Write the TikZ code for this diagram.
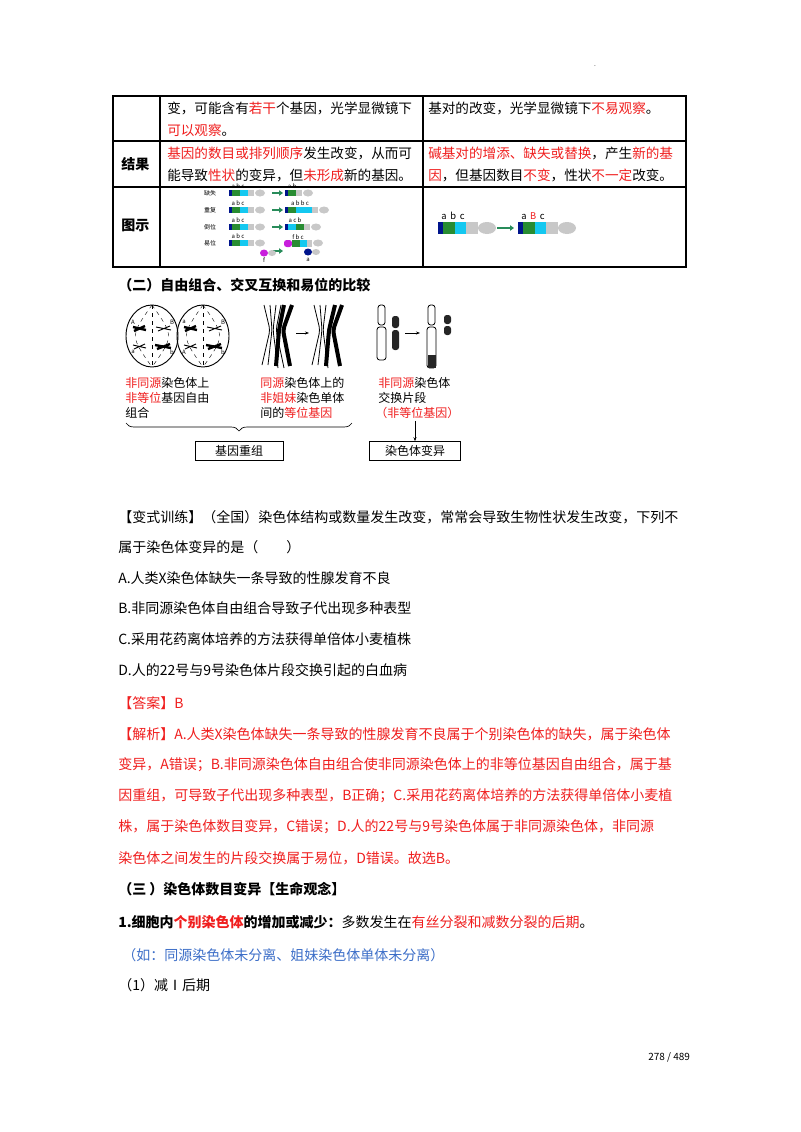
\documentclass[tikz,border=0pt]{standalone}
\usepackage{fontspec}
\setmainfont{Noto Sans CJK SC}
\usetikzlibrary{decorations.pathreplacing,arrows.meta}
\definecolor{rd}{RGB}{240,30,30}
\definecolor{bl}{RGB}{60,110,200}
\definecolor{cdb}{RGB}{0,20,140}
\definecolor{cgr}{RGB}{40,140,50}
\definecolor{ccy}{RGB}{20,200,240}
\definecolor{cgy}{RGB}{200,200,200}
\definecolor{cmg}{RGB}{200,30,220}
\definecolor{arr}{RGB}{40,140,90}
\newcommand\cseg[5]{\fill[#5] (#1,#3) rectangle (#2,#4);}
\newcommand\R[1]{\textcolor{rd}{#1}}
\tikzset{
 txt/.style={anchor=west,inner sep=0,font=\fontsize{10.5pt}{12pt}\selectfont},
 ttxt/.style={anchor=west,inner sep=0,font=\fontsize{10.2pt}{12pt}\selectfont},
 tiny/.style={inner sep=0,font=\fontsize{4.5pt}{5pt}\selectfont},
 lab/.style={inner sep=0,font=\fontsize{7pt}{8pt}\selectfont},
 grid/.style={line width=0.8pt},
 bx/.style={draw,line width=0.6pt,minimum width=66pt,minimum height=14pt,inner sep=0,font=\fontsize{9pt}{10pt}\selectfont},
 garrow/.style={arr,line width=1.6pt,-{Triangle[length=3pt,width=4pt]}},
 karrow/.style={line width=0.5pt,-{Stealth[length=3pt]}},
}
\begin{document}
\begin{tikzpicture}[x=0.75pt,y=-0.75pt]
\useasboundingbox (0,0) rectangle (800,1132);
\fill[white] (0,0) rectangle (800,1132);
\node[inner sep=0,font=\tiny] (dot) at (595,66) {.};
% table
\draw[grid] (113,96) rectangle (686,267);
\draw[grid] (160,96) -- (160,267) (423,96) -- (423,267);
\draw[grid] (113,141) -- (686,141) (113,187) -- (686,187);
\node[ttxt] (r1a) at (167,108) {变，可能含有\R{若干}个基因，光学显微镜下};
\node[ttxt] (r1b) at (167,130) {\R{可以观察}。};
\node[ttxt] (r1c) at (428,108) {基对的改变，光学显微镜下\R{不易观察}。};
\node[ttxt,font=\fontsize{10.5pt}{12pt}\selectfont\bfseries] (jg) at (121,164) {结果};
\node[ttxt] (r2a) at (167,153) {\R{基因的数目或排列顺序}发生改变，从而可};
\node[ttxt] (r2b) at (167,175) {能导致\R{性状}的变异，但\R{未形成}新的基因。};
\node[ttxt] (r2c) at (428,153) {\R{碱基对的增添、缺失或替换}，产生\R{新的基}};
\node[ttxt] (r2d) at (428,175) {\R{因}，但基因数目\R{不变}，性状\R{不一定}改变。};
\node[ttxt,font=\fontsize{10.5pt}{12pt}\selectfont\bfseries] (ts) at (121,225) {图示};
% left figure
\node[tiny] (l1) at (210,193) {缺失};
\node[tiny] (l2) at (210,210) {重复};
\node[tiny] (l3) at (210,227) {倒位};
\node[tiny] (l4) at (210,243) {易位};
\foreach \y in {193,210,227,243}{
 \cseg{229}{232}{\y-3}{\y+3}{cdb}
 \cseg{232}{240}{\y-3}{\y+3}{cgr}
 \cseg{240}{248}{\y-3}{\y+3}{ccy}
 \cseg{248}{254}{\y-3}{\y+3}{cgy}
 \fill[cgy] (260,\y) ellipse (5 and 3.5);
 \node[tiny] at (238,\y-6.5) {a b c};
}
\foreach \y in {193,210,227,251}{\draw[garrow,line width=1pt] (272,\y) -- (283,\y);}
% deletion result
\cseg{285}{288}{190}{196}{cdb}\cseg{288}{296}{190}{196}{cgr}\cseg{296}{302}{190}{196}{cgy}\fill[cgy] (308,193) ellipse (5 and 3.5);
\node[tiny] at (292,186.5) {a b};
% duplication
\cseg{285}{288}{207}{213}{cdb}\cseg{288}{296}{207}{213}{cgr}\cseg{296}{304}{207}{213}{ccy}\cseg{304}{312}{207}{213}{ccy}\cseg{312}{318}{207}{213}{cgy}\fill[cgy] (324,210) ellipse (5 and 3.5);
\node[tiny] at (300,203.5) {a b b c};
% inversion
\cseg{285}{288}{224}{230}{cdb}\cseg{288}{296}{224}{230}{ccy}\cseg{296}{304}{224}{230}{cgr}\cseg{304}{310}{224}{230}{cgy}\fill[cgy] (316,227) ellipse (5 and 3.5);
\node[tiny] at (295,220.5) {a c b};
% translocation
\fill[cmg] (264,253) ellipse (4 and 3.5);\fill[cgy] (272,253) ellipse (4 and 3);
\node[tiny] at (264,260) {f};
\fill[cmg,rounded corners=2pt] (284,240) rectangle (292,247);\cseg{292}{300}{240}{247}{cgr}\cseg{300}{307}{240}{247}{ccy}\cseg{307}{312}{240}{247}{cgy}\fill[cgy] (318,243) ellipse (5 and 3.5);
\node[tiny] at (298,237) {f b c};
\fill[cdb] (308,252) ellipse (4 and 3.5);\fill[cgy] (316,252) ellipse (4 and 3);
\node[tiny] at (308,260) {a};
% right figure
\node[lab] (ra) at (453,216) {a\, b\, c};
\cseg{438}{443}{222}{234}{cdb}\cseg{443}{455}{222}{234}{cgr}\cseg{455}{466}{222}{234}{ccy}\cseg{466}{478}{222}{234}{cgy}
\fill[cgy] (487,228) ellipse (9 and 6);
\draw[garrow] (497,228) -- (514,228);
\node[lab] (rb) at (533,216) {a\, \textcolor{rd}{B}\, c};
\cseg{518}{523}{222}{234}{cdb}\cseg{523}{535}{222}{234}{cgr}\cseg{535}{546}{222}{234}{ccy}\cseg{546}{558}{222}{234}{cgy}
\fill[cgy] (567,228) ellipse (9 and 6);
% section 2
\node[txt,font=\fontsize{10.5pt}{12pt}\selectfont\bfseries] (s2) at (118,285) {（二）自由组合、交叉互换和易位的比较};
% cells
\foreach \cx in {152,203}{
 \draw[line width=0.7pt] (\cx,336) ellipse (26 and 31);
 \draw[dashed,line width=0.3pt] (\cx,305) .. controls (\cx-22,336) .. (\cx,367);
 \draw[dashed,line width=0.3pt] (\cx,305) .. controls (\cx+22,336) .. (\cx,367);
 \draw[dashed,line width=0.3pt] (\cx,305) -- (\cx,367);
 \draw[line width=1.8pt] (\cx-19,327) -- (\cx-6,330) (\cx-18,331) -- (\cx-7,326);
 \draw[line width=0.7pt] (\cx+4,327) -- (\cx+19,330) (\cx+6,331) -- (\cx+18,326);
 \draw[line width=1.8pt] (\cx+3,345) -- (\cx+19,348) (\cx+5,349) -- (\cx+18,344);
 \draw[line width=0.7pt] (\cx-19,345) -- (\cx-6,348) (\cx-18,349) -- (\cx-7,344);
}
\node[tiny] at (133,322) {A};\node[tiny] at (172,322) {B};
\node[tiny] at (133,352) {a};\node[tiny] at (172,352) {b};
\node[tiny] at (184,322) {a};\node[tiny] at (223,322) {B};
\node[tiny] at (184,352) {A};\node[tiny] at (223,352) {b};
% homologous pairs
\draw[line width=0.6pt,rounded corners=3pt] (264,305) -- (270,330) -- (262,365) (270,305) -- (272,330) -- (268,365);
\draw[line width=0.6pt,rounded corners=3pt] (276,305) -- (273,330) -- (278,368) (281,305) -- (276,330) -- (284,368);
\draw[line width=3pt,rounded corners=3pt] (284,305) -- (279,330) -- (276,366);
\draw[line width=3pt,rounded corners=3pt] (292,305) -- (283,330) -- (290,366);
\draw[karrow] (296,333) -- (309,333);
\draw[line width=0.6pt,rounded corners=3pt] (314,305) -- (320,330) -- (312,365) (320,305) -- (322,330) -- (318,365);
\draw[line width=0.6pt,rounded corners=3pt] (326,305) -- (323,330) -- (328,368);
\draw[line width=3pt,rounded corners=3pt] (335,305) -- (329,330) -- (326,366);
\draw[line width=3pt,rounded corners=3pt] (342,305) -- (333,330) -- (340,366);
% translocation figure
\draw[line width=0.6pt,rounded corners=2pt] (378,305) rectangle (385,325);
\draw[line width=0.6pt,rounded corners=2pt] (377,327) rectangle (386,360);
\fill[black!85,rounded corners=2pt] (392,316) rectangle (399,328);
\fill[black!85,rounded corners=2pt] (392,330) rectangle (399,350);
\draw[karrow] (405,333) -- (420,333);
\draw[line width=0.6pt,rounded corners=2pt] (428,305) rectangle (435,325);
\draw[line width=0.6pt,rounded corners=2pt] (427,327) rectangle (436,368);
\fill[black!85] (427.5,355) rectangle (435.5,367.5);
\fill[black!85,rounded corners=2pt] (444,315) rectangle (451,324);
\fill[black!85,rounded corners=2pt] (444,326) rectangle (451,335);
% labels
\node[txt,font=\fontsize{9pt}{10pt}\selectfont] (t1a) at (125,383) {\R{非同源}染色体上};
\node[txt,font=\fontsize{9pt}{10pt}\selectfont] (t1b) at (125,398) {\R{非等位}基因自由};
\node[txt,font=\fontsize{9pt}{10pt}\selectfont] (t1c) at (125,413) {组合};
\node[txt,font=\fontsize{9pt}{10pt}\selectfont] (t2a) at (260,383) {\R{同源}染色体上的};
\node[txt,font=\fontsize{9pt}{10pt}\selectfont] (t2b) at (260,398) {\R{非姐妹}染色单体};
\node[txt,font=\fontsize{9pt}{10pt}\selectfont] (t2c) at (260,413) {间的\R{等位基因}};
\node[txt,font=\fontsize{9pt}{10pt}\selectfont] (t3a) at (378,383) {\R{非同源}染色体};
\node[txt,font=\fontsize{9pt}{10pt}\selectfont] (t3b) at (378,398) {交换片段};
\node[txt,font=\fontsize{9pt}{10pt}\selectfont] (t3c) at (375,413) {\R{（非等位基因）}};
\draw[decorate,decoration={brace,mirror,amplitude=6pt},line width=0.5pt] (126,423) -- (352,423);
\node[bx] (b1) at (239,451) {基因重组};
\node[bx,minimum width=68pt] (b2) at (415,451) {染色体变异};
\draw[karrow] (t3c.south -| b2.north) ++(0,2) -- (b2.north);
% text
\node[txt] (p1) at (118,517) {【变式训练】（全国）染色体结构或数量发生改变，常常会导致生物性状发生改变，下列不};
\node[txt] (p2) at (118,547) {属于染色体变异的是（\hspace{2em}）};
\node[txt] (pa) at (118,578) {A.人类X染色体缺失一条导致的性腺发育不良};
\node[txt] (pb) at (118,608) {B.非同源染色体自由组合导致子代出现多种表型};
\node[txt] (pc) at (118,639) {C.采用花药离体培养的方法获得单倍体小麦植株};
\node[txt] (pd) at (118,670) {D.人的22号与9号染色体片段交换引起的白血病};
\node[txt] (ans) at (118,703) {\R{【答案】B}};
\node[txt] (e1) at (118,734) {\R{【解析】A.人类X染色体缺失一条导致的性腺发育不良属于个别染色体的缺失，属于染色体}};
\node[txt] (e2) at (118,765) {\R{变异，A错误；B.非同源染色体自由组合使非同源染色体上的非等位基因自由组合，属于基}};
\node[txt] (e3) at (118,796) {\R{因重组，可导致子代出现多种表型，B正确；C.采用花药离体培养的方法获得单倍体小麦植}};
\node[txt] (e4) at (118,827) {\R{株，属于染色体数目变异，C错误；D.人的22号与9号染色体属于非同源染色体，非同源}};
\node[txt] (e5) at (118,858) {\R{染色体之间发生的片段交换属于易位，D错误。故选B。}};
\node[txt,font=\fontsize{10.5pt}{12pt}\selectfont\bfseries] (s3) at (118,889) {（三 ）染色体数目变异【生命观念】};
\node[txt] (q1) at (118,922) {\textbf{1.细胞内\R{个别染色体}的增加或减少：}多数发生在\R{有丝分裂和减数分裂的后期}。};
\node[txt] (q2) at (122,955) {\textcolor{bl}{（如：同源染色体未分离、姐妹染色体单体未分离）}};
\node[txt] (q3) at (118,985) {（1）减Ⅰ后期};
\node[txt,font=\fontsize{7.5pt}{9pt}\selectfont] (pg) at (648,1057) {278 / 489};
\end{tikzpicture}
\end{document}
